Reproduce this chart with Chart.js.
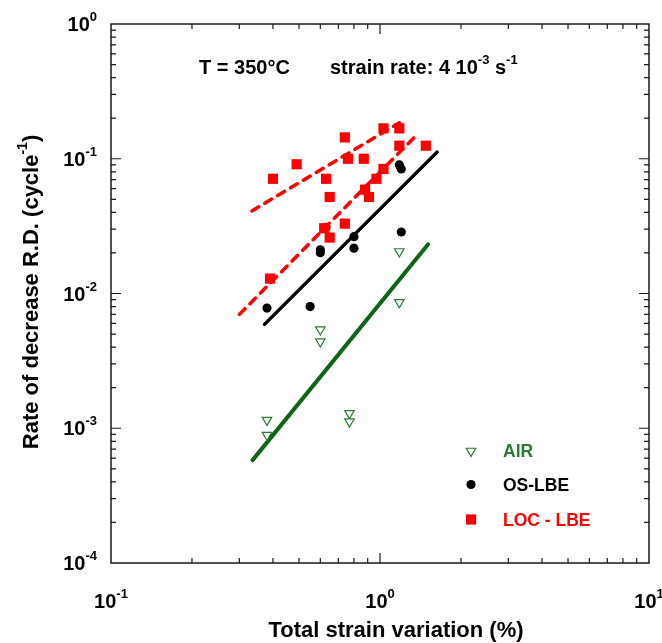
<!DOCTYPE html>
<html><head><meta charset="utf-8">
<script src="https://cdn.jsdelivr.net/npm/chart.js@4/dist/chart.umd.min.js"></script>
<style>html,body{margin:0;padding:0;background:#fff}</style>
</head><body>
<canvas id="c" width="662" height="643"></canvas>
<script>
// ---- data ----
const airX = [0.38, 0.38, 0.60, 0.60, 0.77, 0.77, 1.18, 1.18];
const airY = [0.00115, 0.00089, 0.0054, 0.0044, 0.00129, 0.00112, 0.0205, 0.0086];
const osX = [0.38, 0.55, 0.60, 0.60, 0.63, 0.80, 0.80, 1.18, 1.20, 1.20];
const osY = [0.0078, 0.0080, 0.0211, 0.0201, 0.031, 0.0264, 0.0217, 0.090, 0.084, 0.0286];
const locX = [0.40, 0.49, 0.74, 0.63, 0.76, 0.87, 0.65, 1.03, 1.18, 1.18, 1.48, 1.03, 0.97, 0.88, 0.91, 0.74, 0.62, 0.65, 0.39];
const locY = [0.071, 0.091, 0.144, 0.071, 0.100, 0.100, 0.052, 0.168, 0.168, 0.125, 0.125, 0.084, 0.071, 0.059, 0.052, 0.033, 0.0305, 0.026, 0.0129];
const airFitX = [0.336, 1.51];
const airFitY = [0.00058, 0.0232];
const osFitX = [0.372, 1.63];
const osFitY = [0.0059, 0.112];
const locFitUpperX = [0.334, 1.18];
const locFitUpperY = [0.041, 0.185];
const locFitLowerX = [0.30, 1.39];
const locFitLowerY = [0.0070, 0.155];
const xTickValues = [0.1, 1, 10];
const xTickExponents = ['-1', '0', '1'];
const yTickValues = [0.0001, 0.001, 0.01, 0.1, 1];
const yTickExponents = ['-4', '-3', '-2', '-1', '0'];
const legendLabels = ['AIR', 'OS-LBE', 'LOC - LBE'];
const xTitle = 'Total strain variation (%)';
const yTitleMain = 'Rate of decrease R.D. (cycle';
const yTitleSup = '-1';

const GREEN_LINE = '#0f6418';
const GREEN_MARK = '#2b7a35';
const RED = '#ff0000';
const FONT = '"Liberation Sans", Arial, Helvetica, sans-serif';

const pts = (xs, ys) => xs.map((x, i) => ({x: x, y: ys[i]}));

function drawParts(ctx, parts, x, y, align, baseSize, supSize, color) {
  // parts: [text, isSup]; y = alphabetic baseline of base text
  let widths = parts.map(p => { ctx.font = 'bold ' + (p[1] ? supSize : baseSize) + 'px ' + FONT; return ctx.measureText(p[0]).width; });
  const total = widths.reduce((a, b) => a + b, 0);
  let cx = align === 'center' ? x - total / 2 : (align === 'right' ? x - total : x);
  ctx.fillStyle = color; ctx.textAlign = 'left'; ctx.textBaseline = 'alphabetic';
  parts.forEach((p, i) => {
    ctx.font = 'bold ' + (p[1] ? supSize : baseSize) + 'px ' + FONT;
    ctx.fillText(p[0], cx, p[1] ? y - baseSize * 0.5 : y);
    cx += widths[i];
  });
}

const decor = {
  id: 'decor',
  afterDatasetsDraw(chart) {
    const ctx = chart.ctx, a = chart.chartArea;
    const xs = chart.scales.x, ys = chart.scales.y;
    ctx.save();
    // frame
    ctx.strokeStyle = '#1a1a1a'; ctx.lineWidth = 1.5;
    ctx.strokeRect(a.left, a.top, a.right - a.left, a.bottom - a.top);
    // ticks (inward, all 4 sides)
    ctx.lineWidth = 1.2;
    ctx.beginPath();
    const xdec = [0.1, 1], ydec = [0.0001, 0.001, 0.01, 0.1];
    xdec.forEach(d => { for (let k = 1; k <= 9; k++) { if (k === 1 && d === 0.1) continue; const v = k * d; const px = xs.getPixelForValue(v); const L = k === 1 ? 10 : 5;
      ctx.moveTo(px, a.bottom); ctx.lineTo(px, a.bottom - L); ctx.moveTo(px, a.top); ctx.lineTo(px, a.top + L); } });
    ydec.forEach(d => { for (let k = 1; k <= 9; k++) { if (k === 1 && d === 0.0001) continue; const v = k * d; const py = ys.getPixelForValue(v); const L = k === 1 ? 10 : 5;
      ctx.moveTo(a.left, py); ctx.lineTo(a.left + L, py); ctx.moveTo(a.right, py); ctx.lineTo(a.right - L, py); } });
    ctx.stroke();
    // tick labels
    xTickValues.forEach((v, i) => {
      const px = xs.getPixelForValue(v);
      drawParts(ctx, [['10', false], [xTickExponents[i], true]], px, a.bottom + 45, 'center', 20, 13, '#000');
    });
    yTickValues.forEach((v, i) => {
      const py = ys.getPixelForValue(v);
      drawParts(ctx, [['10', false], [yTickExponents[i], true]], a.left - 14, py + 7, 'right', 20, 13, '#000');
    });
    // axis titles
    drawParts(ctx, [[xTitle, false]], 396, 637, 'center', 22, 14, '#000');
    ctx.save();
    ctx.translate(38, 292);
    ctx.rotate(-Math.PI / 2);
    drawParts(ctx, [[yTitleMain, false], [yTitleSup, true], [')', false]], 0, 0, 'center', 22, 14, '#000');
    ctx.restore();
    // annotation
    drawParts(ctx, [['T = 350°C', false]], 199, 74, 'left', 20, 13, '#000');
    drawParts(ctx, [['strain rate: 4 10', false], ['-3', true], [' s', false], ['-1', true]], 330, 74, 'left', 20, 13, '#000');
    // legend
    const lx = 471, tx = 503, rows = [451, 484.5, 519.5];
    const styles = [
      {pointStyle: 'triangle', rotation: 180, radius: 5.5, borderWidth: 1.2, borderColor: GREEN_MARK, backgroundColor: '#fff'},
      {pointStyle: 'circle', rotation: 0, radius: 4.6, borderWidth: 0, borderColor: '#000', backgroundColor: '#000'},
      {pointStyle: 'rect', rotation: 0, radius: 7.2, borderWidth: 0, borderColor: RED, backgroundColor: RED}
    ];
    const colors = [GREEN_MARK, '#000', RED];
    rows.forEach((ry, i) => {
      ctx.fillStyle = styles[i].backgroundColor; ctx.strokeStyle = styles[i].borderColor; ctx.lineWidth = styles[i].borderWidth;
      Chart.helpers.drawPoint(ctx, styles[i], lx, ry);
      drawParts(ctx, [[legendLabels[i], false]], tx, ry + 6, 'left', 17.5, 12, colors[i]);
    });
    ctx.restore();
  }
};

new Chart(document.getElementById('c'), {
  type: 'scatter',
  data: {
    datasets: [
      {label: 'LOC - LBE', data: pts(locX, locY), pointStyle: 'rect', pointRadius: 7.2, pointBorderWidth: 0, backgroundColor: RED, borderColor: RED, order: 1},
      {label: 'LOC fit upper', data: pts(locFitUpperX, locFitUpperY), showLine: true, pointRadius: 0, borderColor: RED, borderWidth: 3.5, borderDash: [8, 7], borderCapStyle: 'round', order: 2},
      {label: 'LOC fit lower', data: pts(locFitLowerX, locFitLowerY), showLine: true, pointRadius: 0, borderColor: RED, borderWidth: 3.5, borderDash: [8, 7], borderCapStyle: 'round', order: 3},
      {label: 'OS-LBE', data: pts(osX, osY), pointStyle: 'circle', pointRadius: 4.6, pointBorderWidth: 0, backgroundColor: '#000', borderColor: '#000', order: 4},
      {label: 'OS fit', data: pts(osFitX, osFitY), showLine: true, pointRadius: 0, borderColor: '#000', borderWidth: 3.5, borderCapStyle: 'round', order: 5},
      {label: 'AIR', data: pts(airX, airY), pointStyle: 'triangle', rotation: 180, pointRadius: 5.5, pointBorderWidth: 1.2, backgroundColor: '#fff', borderColor: GREEN_MARK, order: 6},
      {label: 'AIR fit', data: pts(airFitX, airFitY), showLine: true, pointRadius: 0, borderColor: GREEN_LINE, borderWidth: 4, borderCapStyle: 'round', order: 7}
    ]
  },
  options: {
    responsive: false, animation: false, devicePixelRatio: 1,
    layout: {padding: {left: 0, top: 24, right: 13, bottom: 0}},
    plugins: {legend: {display: false}, tooltip: {enabled: false}},
    scales: {
      x: {type: 'logarithmic', min: 0.1, max: 10, grid: {display: false}, border: {display: false}, ticks: {display: false},
          afterFit: s => { s.height = 80; }},
      y: {type: 'logarithmic', min: 0.0001, max: 1, grid: {display: false}, border: {display: false}, ticks: {display: false},
          afterFit: s => { s.width = 111; }}
    }
  },
  plugins: [decor]
});
</script>
</body></html>
